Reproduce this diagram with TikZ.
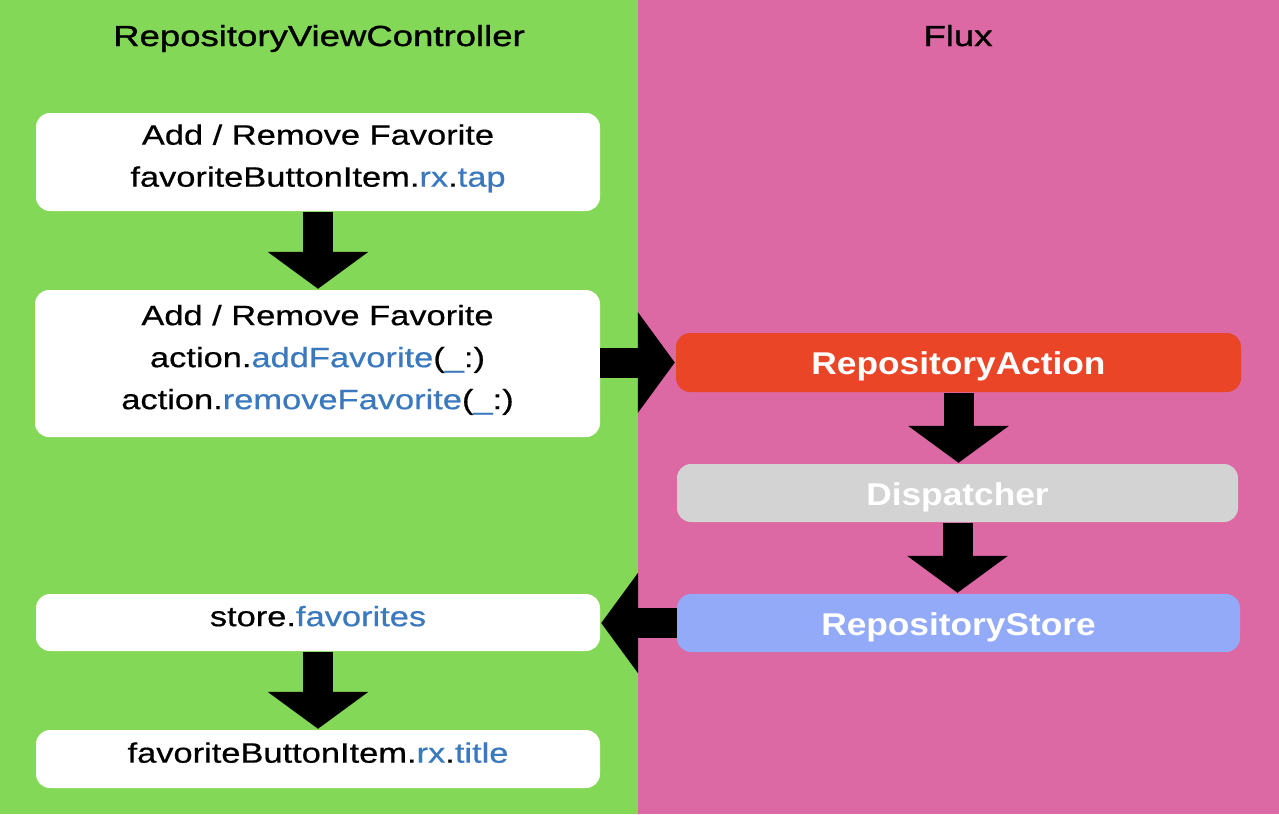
\documentclass[tikz,border=0pt]{standalone}
\usepackage{fontspec}
\setmainfont{Liberation Sans}
\newfontfamily\vcfont{Liberation Sans}[FakeStretch=1.23,FakeBold=0.6]
\newfontfamily\titlefont{Liberation Sans}[FakeStretch=1.26,FakeBold=1.2]
\newfontfamily\fluxfont{Liberation Sans}[FakeStretch=1.12]
\usetikzlibrary{arrows.meta}
\definecolor{panelgreen}{HTML}{84D858}
\definecolor{panelpink}{HTML}{DC68A4}
\definecolor{codeblue}{HTML}{3B79BE}
\definecolor{actred}{HTML}{EB4528}
\definecolor{dispgray}{HTML}{D3D3D3}
\definecolor{storeblue}{HTML}{92AAF7}
\newcommand{\cb}[1]{\textcolor{codeblue}{#1}}
\newcommand{\lowstrut}{\rule[-13pt]{0pt}{13pt}}
\begin{document}
\begin{tikzpicture}[x=1pt,y=-1pt,
  paneltitle/.style={anchor=base, inner sep=0pt, font=\titlefont\fontsize{29}{35}\selectfont},
  vcbox/.style={fill=white, rounded corners=14pt, inner sep=0pt, align=center,
    font=\vcfont\fontsize{28}{42}\selectfont},
  fluxbox/.style={rounded corners=14pt, inner sep=0pt, text=white,
    text height=24pt, text depth=0pt,
    font=\fluxfont\bfseries\fontsize{31.5}{36}\selectfont},
  blockarrow/.style={draw=black, line width=30pt,
    -{Triangle[width=99pt,length=37pt]}, shorten >=1pt}
]
% backgrounds
\fill[panelgreen] (0,0) rectangle (638,814);
\fill[panelpink] (638,0) rectangle (1279,814);
\useasboundingbox (0,0) rectangle (1279,814);

% titles
\node[paneltitle] (t1) at (319,46) {RepositoryViewController};
\node[paneltitle] (t2) at (958,46) {Flux};

% left column
\node[vcbox, minimum width=564pt, minimum height=98pt] (b1) at (318,162)
  {Add / Remove Favorite\\favoriteButtonItem.\cb{rx}.\cb{tap}\lowstrut};
\node[vcbox, minimum width=565pt, minimum height=147pt] (b2) at (317.5,363.5)
  {Add / Remove Favorite\\action.\cb{addFavorite}(\cb{\_}:)\\action.\cb{removeFavorite}(\cb{\_}:)\lowstrut};
\node[vcbox, minimum width=564pt, minimum height=57pt] (sf) at (318,622.5)
  {store.\cb{favorites}\lowstrut};
\node[vcbox, minimum width=564pt, minimum height=58pt] (bt) at (318,759)
  {favoriteButtonItem.\cb{rx}.\cb{title}\lowstrut};

% flux column
\node[fluxbox, fill=actred, minimum width=565pt, minimum height=59pt] (ra) at (958.5,362.5) {RepositoryAction};
\node[fluxbox, fill=dispgray, minimum width=561pt, minimum height=58pt] (dp) at (957.5,493) {Dispatcher};
\node[fluxbox, fill=storeblue, minimum width=563pt, minimum height=58pt] (rs) at (958.5,623) {RepositoryStore};

% connectors
\draw[blockarrow] ([yshift=-1pt]b1.south) -- (b1.south |- b2.north);
\draw[blockarrow] (b2.east |- ra.west) -- (ra.west);
\draw[blockarrow] ([yshift=-1pt]ra.south) -- (ra.south |- dp.north);
\draw[blockarrow] ([yshift=-1pt]dp.south) -- (dp.south |- rs.north);
\draw[blockarrow] (rs.west) -- (rs.west -| sf.east);
\draw[blockarrow] ([yshift=-1pt]sf.south) -- (sf.south |- bt.north);
\end{tikzpicture}
\end{document}
